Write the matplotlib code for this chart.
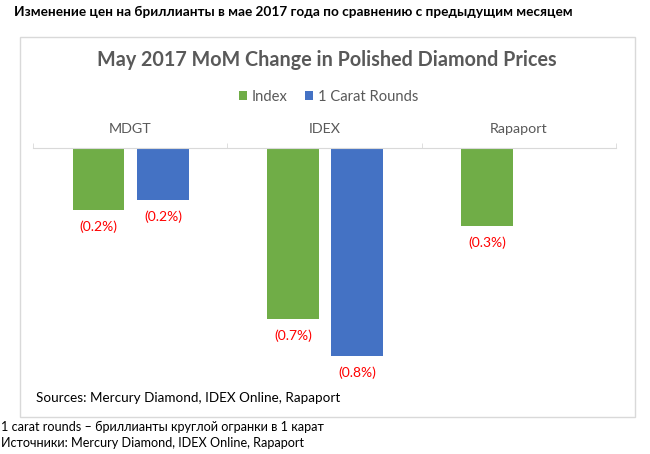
import numpy as np
import matplotlib.pyplot as plt
from matplotlib.patches import Rectangle

plt.rcParams['font.family'] = ['Lato', 'DejaVu Sans']

categories = ['MDGT', 'IDEX', 'Rapaport']
index_vals = [-0.24, -0.66, -0.30]
carat_vals = [-0.20, -0.80, np.nan]
series_names = ['Index', '1 Carat Rounds']

GREEN = '#70AD47'
BLUE = '#4472C4'
GRAY = '#595959'
LINE = '#D9D9D9'

W, H = 650, 454
fig = plt.figure(figsize=(W / 100, H / 100), dpi=100)

def fx(px):
    return px / W

def fy(py):
    return 1 - py / H

# chart frame
fig.patches.append(Rectangle((fx(20), fy(417)), fx(615), 380 / H, transform=fig.transFigure,
                             fill=False, edgecolor=LINE, lw=1))

fig.text(fx(14), fy(12), 'Изменение цен на бриллианты в мае 2017 года по сравнению с предыдущим месяцем',
         fontsize=9.8, fontweight='bold', ha='left', va='center')
fig.text(fx(327), fy(60), 'May 2017 MoM Change in Polished Diamond Prices',
         fontsize=14.2, fontweight='bold', color=GRAY, ha='center', va='center')

ax = fig.add_axes([fx(33), fy(387), fx(583), (387 - 148) / H])
x = np.arange(len(categories))
w = 0.267
b1 = ax.bar(x - 0.163, index_vals, w, color=GREEN, label=series_names[0])
b2 = ax.bar(x + 0.169, carat_vals, w, color=BLUE, label=series_names[1])

ax.set_xlim(-0.5, 2.5)
ax.set_ylim(-0.92, 0)

for xs, vals in [(x - 0.163, index_vals), (x + 0.169, carat_vals)]:
    for xi, v in zip(xs, vals):
        if np.isnan(v):
            continue
        ax.annotate('(%.1f%%)' % abs(v), (xi, v), xytext=(0, -12), textcoords='offset points',
                    ha='center', va='center', color='red', fontsize=10)

for s in ['left', 'right', 'bottom']:
    ax.spines[s].set_visible(False)
ax.spines['top'].set_color(LINE)
ax.yaxis.set_visible(False)
ax.xaxis.tick_top()
ax.set_xticks(x)
ax.set_xticklabels(categories)
ax.set_xticks([-0.5, 0.5, 1.5, 2.5], minor=True)
ax.tick_params(axis='x', which='major', length=0, pad=9.5, labelsize=10.3, labelcolor=GRAY)
ax.tick_params(axis='x', which='minor', length=3.5, color=LINE, direction='out')

fig.legend(handles=[b1, b2], loc='center', bbox_to_anchor=(fx(328.5), fy(97)), ncol=2,
           frameon=False, fontsize=10.6, labelcolor=GRAY, handlelength=0.55, handleheight=0.55,
           handletextpad=0.3, columnspacing=1.2)

fig.text(fx(36), fy(398), 'Sources: Mercury Diamond, IDEX Online, Rapaport',
         fontsize=9.7, ha='left', va='center')
fig.text(fx(1), fy(427), '1 carat rounds – бриллианты круглой огранки в 1 карат',
         fontsize=9.1, ha='left', va='center')
fig.text(fx(1), fy(443), 'Источники: Mercury Diamond, IDEX Online, Rapaport',
         fontsize=9.1, ha='left', va='center')

fig.savefig('out.png', dpi=100)
